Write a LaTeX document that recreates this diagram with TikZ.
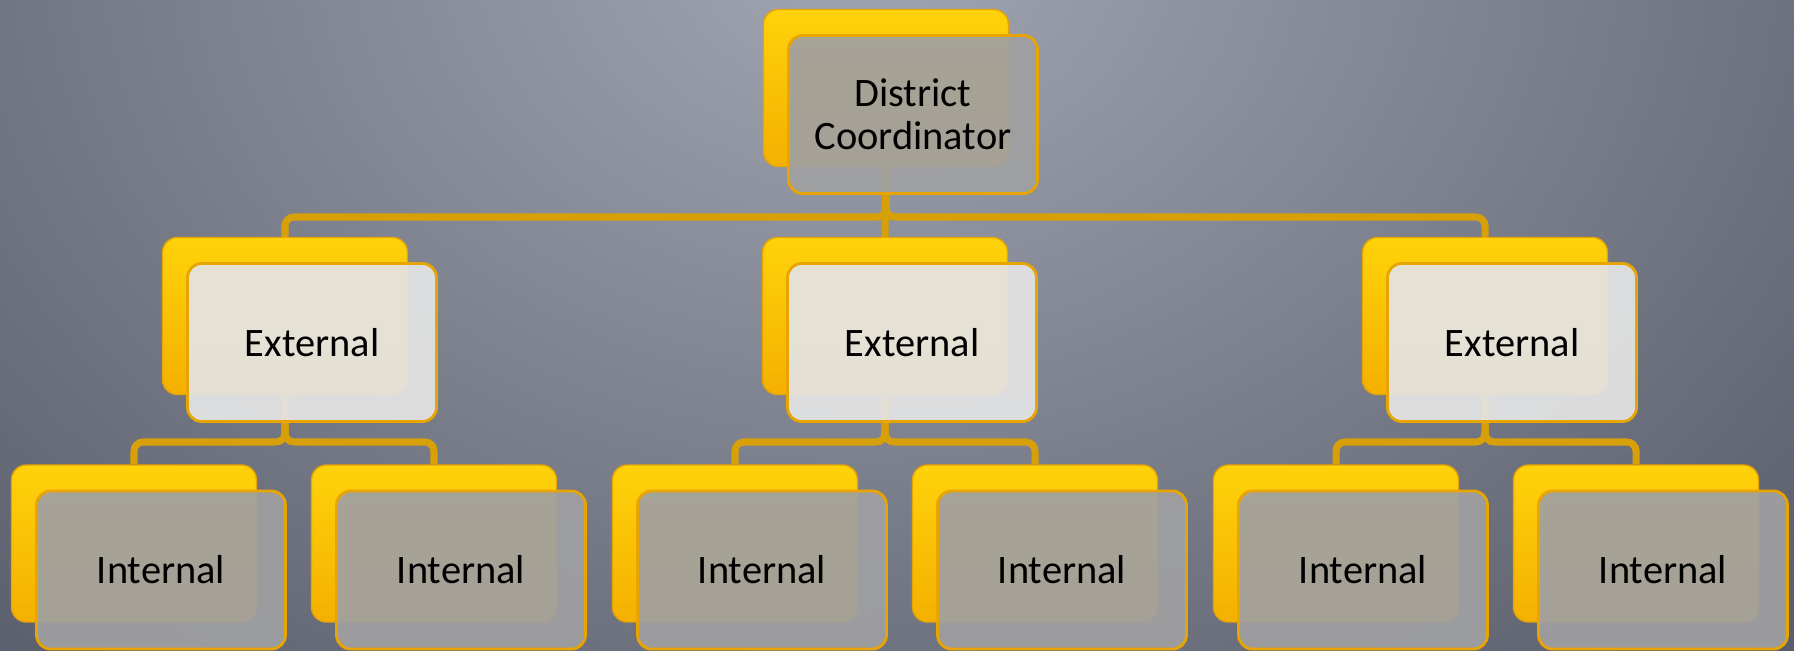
\documentclass[tikz,border=0pt]{standalone}
\usepackage{fontspec}
\setmainfont{Carlito}
\usepackage{tikz}
\usetikzlibrary{positioning,calc}

\definecolor{bgdark}{HTML}{4E5260}
\definecolor{bglight}{HTML}{A2A6B2}
\definecolor{goldtop}{HTML}{FFD20A}
\definecolor{goldbot}{HTML}{F4B000}
\definecolor{goldline}{HTML}{E8A400}
\definecolor{linkgold}{HTML}{D8A008}
\definecolor{frontgray}{HTML}{A0A0A2}
\definecolor{frontlight}{HTML}{E4E4E4}

\begin{document}
\begin{tikzpicture}[x=0.02cm, y=-0.02cm,
    backbox/.style={rectangle, rounded corners=0.3cm, minimum width=4.9cm, minimum height=3.14cm,
        draw=goldline, line width=0.8pt, top color=goldtop, bottom color=goldbot},
    frontbox/.style={rectangle, rounded corners=0.28cm, minimum width=4.98cm, minimum height=3.16cm,
        draw=goldline, line width=1.6pt, fill=frontgray, fill opacity=0.93, text opacity=1,
        align=center, font=\fontsize{23}{24.5}\selectfont},
    extbox/.style={frontbox, fill=frontlight},
    link/.style={draw=linkgold, line width=4pt, rounded corners=0.18cm}]

    % Background
    \useasboundingbox (0,0) rectangle (1794,650);
    \fill[bgdark] (0,0) rectangle (1794,650);
    \begin{scope}
        \clip (0,0) rectangle (1794,650);
        \shade[inner color=bglight, outer color=bgdark] (860,-50) ellipse [x radius=1500, y radius=1150];
    \end{scope}

    % Bars
    \coordinate (bartop) at (0,217);
    \coordinate (barmid) at (0,442);

    % Back boxes
    \node[backbox] (dcb) at (886,88) {};
    \node[backbox] (e1b) at (285,316) {};
    \node[backbox] (e2b) at (885,316) {};
    \node[backbox] (e3b) at (1485,316) {};
    \node[backbox] (i1b) at (134,543.5) {};
    \node[backbox] (i2b) at (434,543.5) {};
    \node[backbox] (i3b) at (735,543.5) {};
    \node[backbox] (i4b) at (1035,543.5) {};
    \node[backbox] (i5b) at (1336,543.5) {};
    \node[backbox] (i6b) at (1636,543.5) {};

    % Connectors
    \draw[link] (dcb.south) -- (dcb.south |- bartop) -| (e1b.north);
    \draw[link] (dcb.south) -- (e2b.north);
    \draw[link] (dcb.south) -- (dcb.south |- bartop) -| (e3b.north);
    \draw[link] (e1b.south) -- (e1b.south |- barmid) -| (i1b.north);
    \draw[link] (e1b.south) -- (e1b.south |- barmid) -| (i2b.north);
    \draw[link] (e2b.south) -- (e2b.south |- barmid) -| (i3b.north);
    \draw[link] (e2b.south) -- (e2b.south |- barmid) -| (i4b.north);
    \draw[link] (e3b.south) -- (e3b.south |- barmid) -| (i5b.north);
    \draw[link] (e3b.south) -- (e3b.south |- barmid) -| (i6b.north);

    % Front boxes
    \node[frontbox] (dc) at (913,114.5) {District\\Coordinator};
    \node[extbox] (e1) at (312,342.5) {External};
    \node[extbox] (e2) at (912,342.5) {External};
    \node[extbox] (e3) at (1512,342.5) {External};
    \node[frontbox] (i1) at (161,570) {Internal};
    \node[frontbox] (i2) at (461,570) {Internal};
    \node[frontbox] (i3) at (762,570) {Internal};
    \node[frontbox] (i4) at (1062,570) {Internal};
    \node[frontbox] (i5) at (1363,570) {Internal};
    \node[frontbox] (i6) at (1663,570) {Internal};
\end{tikzpicture}
\end{document}
